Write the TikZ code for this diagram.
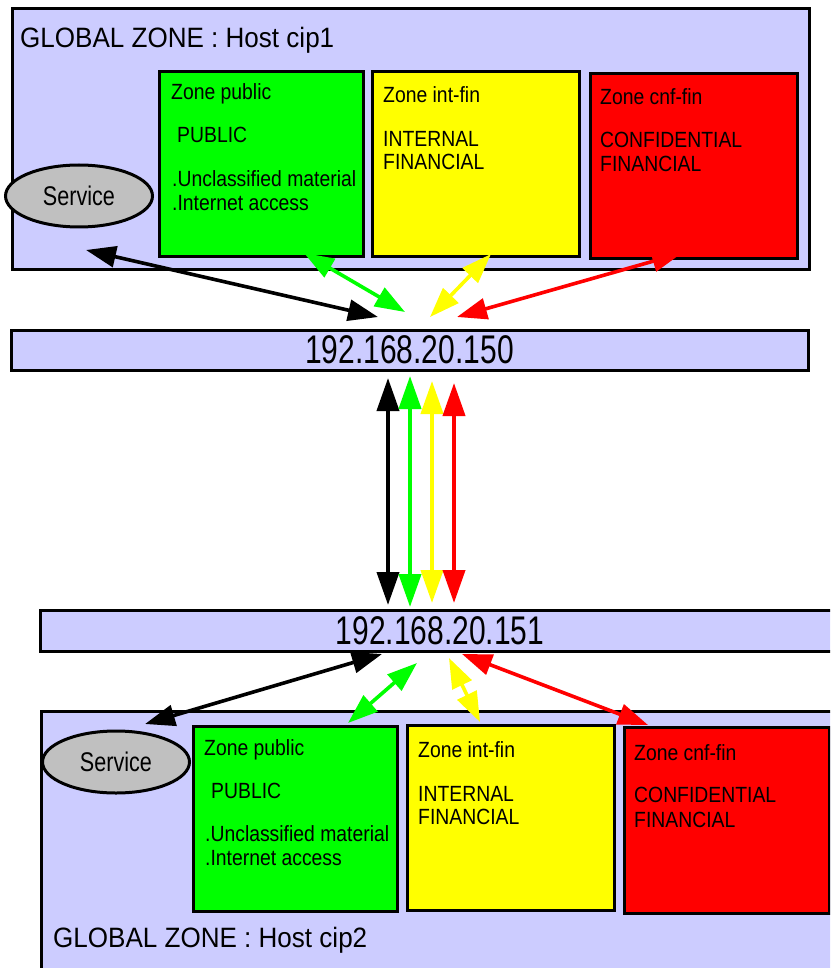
\documentclass[tikz,border=0pt]{standalone}
\usepackage{fontspec}
\setmainfont{Liberation Sans}
\newfontfamily\titlefont[FakeStretch=0.93]{Liberation Sans}
\newfontfamily\zonefont[FakeStretch=0.88]{Liberation Sans}
\newfontfamily\svcfont[FakeStretch=0.8]{Liberation Sans}
\newfontfamily\ipfont[FakeStretch=0.75]{Liberation Sans}
\usetikzlibrary{arrows.meta,shapes.geometric}

\definecolor{hostblue}{HTML}{CCCCFF}
\definecolor{pubgreen}{HTML}{00FF00}
\definecolor{finyellow}{HTML}{FFFF00}
\definecolor{cnfred}{HTML}{FF0000}
\definecolor{svcgray}{HTML}{C0C0C0}

\tikzset{
  frame/.style={draw=black, line width=3pt, anchor=north west, inner sep=0pt},
  host/.style={frame, fill=hostblue},
  ipbar/.style={draw=black, line width=3pt, fill=hostblue, inner sep=0pt,
    font=\ipfont\fontsize{40}{44}\selectfont},
  zonebox/.style={frame, fill=#1, minimum width=204pt, minimum height=185pt},
  service/.style={ellipse, draw=black, line width=3pt, fill=svcgray, inner sep=0pt,
    minimum width=147pt, minimum height=62pt, font=\svcfont\fontsize{27}{30}\selectfont},
  title/.style={anchor=base west, inner sep=0pt, font=\titlefont\fontsize{28}{32}\selectfont},
  txt/.style={anchor=base west, inner sep=0pt, font=\zonefont\fontsize{22}{26}\selectfont},
  tip/.style={Triangle[width=21pt,length=30pt]},
  link/.style={line width=3.6pt, draw=#1, {Triangle[width=21pt,length=30pt]}-{Triangle[width=21pt,length=30pt]}},
  trunk/.style={line width=4pt, draw=#1, {Triangle[width=22pt,length=33pt]}-{Triangle[width=22pt,length=33pt]}}
}

\begin{document}
\begin{tikzpicture}[x=1pt,y=-1pt]
\clip (0,0) rectangle (830,968);

% ---------------- host cip1 ----------------
\node[host, minimum width=797pt, minimum height=261pt] (host1) at (11,7) {};
\node[title] (title1) at (20,48) {GLOBAL ZONE : Host cip1};

\node[zonebox=pubgreen, minimum width=204pt] (pub1) at (158,70) {};
\node[zonebox=finyellow, minimum width=207pt] (int1) at (371,70) {};
\node[zonebox=cnfred, minimum width=207pt] (cnf1) at (589,72) {};
\node[service] (svc1) at (79,196) {Service};

\node[txt] (pub1a) at (171,100) {Zone public};
\node[txt] (pub1b) at (177,143) {PUBLIC};
\node[txt] (pub1c) at (172,187) {.Unclassified material};
\node[txt] (pub1d) at (172,211) {.Internet access};

\node[txt] (int1a) at (383,103) {Zone int-fin};
\node[txt] (int1b) at (383,147) {INTERNAL};
\node[txt] (int1c) at (383,170) {FINANCIAL};

\node[txt] (cnf1a) at (600,105) {Zone cnf-fin};
\node[txt] (cnf1b) at (600,148) {CONFIDENTIAL};
\node[txt] (cnf1c) at (600,172) {FINANCIAL};

% ---------------- address bars ----------------
\node[ipbar, minimum width=797pt, minimum height=40pt] (ip150) at (409.5,350) {192.168.20.150};
\node[ipbar, minimum width=800pt, minimum height=41pt] (ip151) at (440,630.5) {192.168.20.151};

% ---------------- host cip2 ----------------
\node[host, minimum width=800pt, minimum height=270pt] (host2) at (40,710) {};
\node[title] (title2) at (53,947) {GLOBAL ZONE : Host cip2};

\node[zonebox=pubgreen, minimum width=204pt] (pub2) at (192,725) {};
\node[zonebox=finyellow, minimum width=207pt] (int2) at (406,724) {};
\node[zonebox=cnfred, minimum width=205pt, minimum height=186pt] (cnf2) at (623,726) {};
\node[service] (svc2) at (116,762) {Service};

\node[txt] (pub2a) at (204,755) {Zone public};
\node[txt] (pub2b) at (211,798) {PUBLIC};
\node[txt] (pub2c) at (205,841) {.Unclassified material};
\node[txt] (pub2d) at (205,865) {.Internet access};

\node[txt] (int2a) at (418,757) {Zone int-fin};
\node[txt] (int2b) at (418,801) {INTERNAL};
\node[txt] (int2c) at (418,824) {FINANCIAL};

\node[txt] (cnf2a) at (634,760) {Zone cnf-fin};
\node[txt] (cnf2b) at (634,802) {CONFIDENTIAL};
\node[txt] (cnf2c) at (634,827) {FINANCIAL};

% ---------------- link end points ----------------
\coordinate (s1) at (86,250);   \coordinate (s1ip) at (378,317);
\coordinate (g1) at (304,253);  \coordinate (g1ip) at (405,312);
\coordinate (y1) at (491,254);  \coordinate (y1ip) at (430,317);
\coordinate (r1) at (682,253);  \coordinate (r1ip) at (457,317);

\coordinate (kt) at (388,378);  \coordinate (kb) at (388,605);
\coordinate (gt) at (410,376);  \coordinate (gb) at (410,607);
\coordinate (yt) at (432,381);  \coordinate (yb) at (432,603);
\coordinate (rt) at (454,383);  \coordinate (rb) at (454,603);

\coordinate (s2ip) at (382,654); \coordinate (s2) at (145,724);
\coordinate (g2ip) at (417,663); \coordinate (g2) at (348,723);
\coordinate (y2ip) at (449,658); \coordinate (y2) at (480,722);
\coordinate (r2ip) at (462,654); \coordinate (r2) at (648,725);

% ---------------- zone links to cip1 ----------------
\draw[link=black] (s1) -- (s1ip);
\draw[link=pubgreen] (g1) -- (g1ip);
\draw[link=finyellow] (y1) -- (y1ip);
\draw[link=cnfred] (r1) -- (r1ip);

% ---------------- links between the two addresses ----------------
\draw[trunk=black] (kt) -- (kb);
\draw[trunk=pubgreen] (gt) -- (gb);
\draw[trunk=finyellow] (yt) -- (yb);
\draw[trunk=cnfred] (rt) -- (rb);

% ---------------- zone links to cip2 ----------------
\draw[link=black] (s2ip) -- (s2);
\draw[link=pubgreen] (g2ip) -- (g2);
\draw[link=finyellow] (y2ip) -- (y2);
\draw[link=cnfred] (r2ip) -- (r2);
\end{tikzpicture}
\end{document}
